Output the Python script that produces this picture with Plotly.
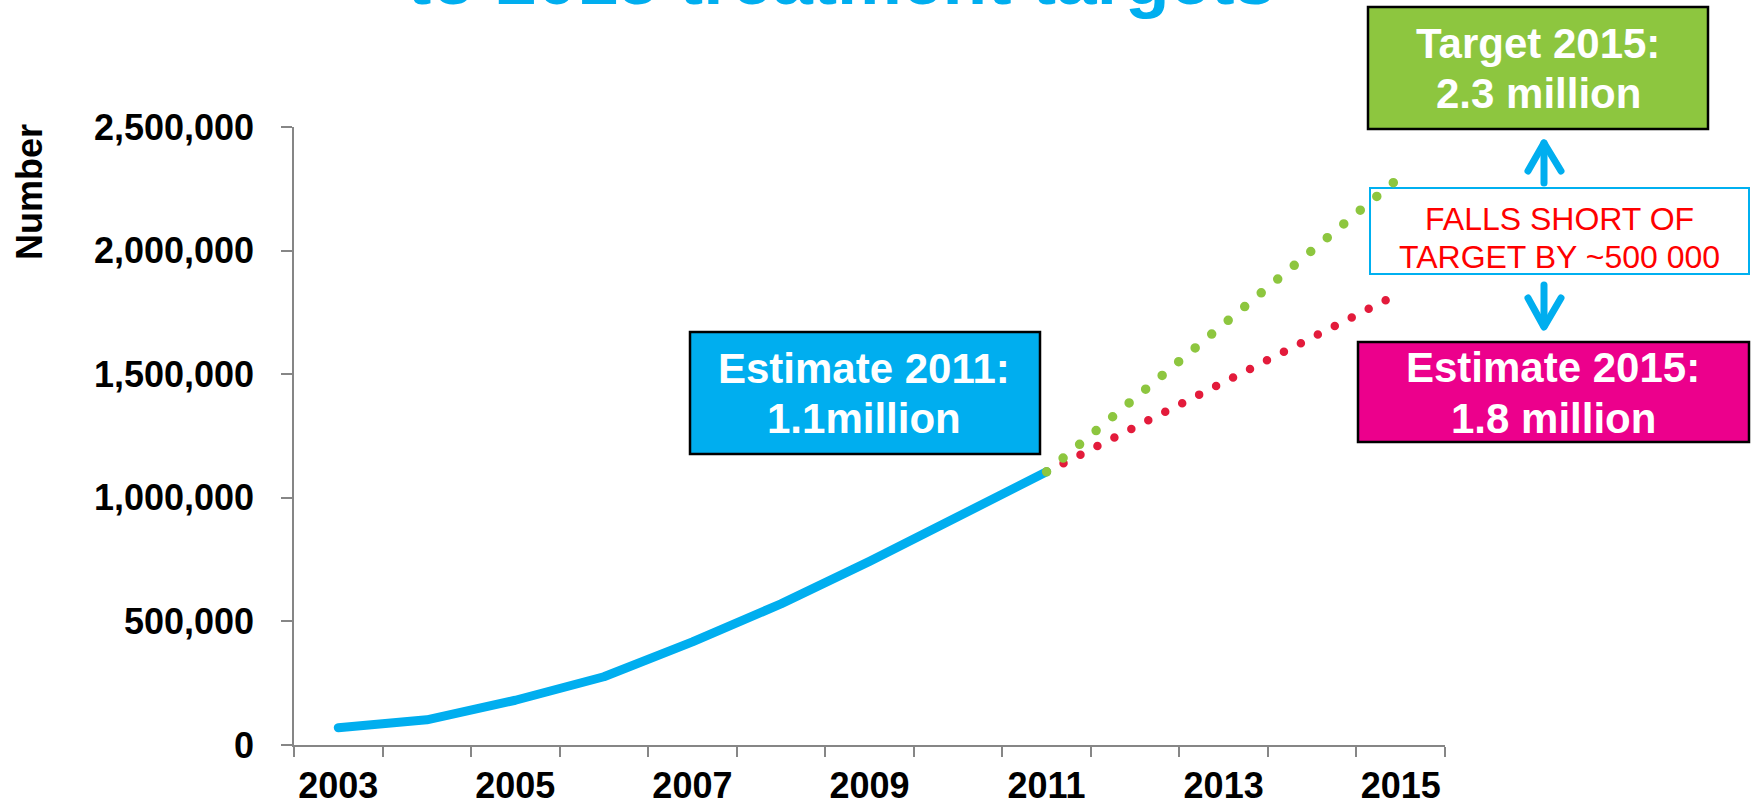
import plotly.graph_objects as go

# ---------------- data ----------------
years = [2003, 2004, 2005, 2006, 2007, 2008, 2009, 2010, 2011]
art_numbers = [70000, 102000, 181000, 276000, 417000, 571000, 743000, 928000, 1105000]

proj_years = [2011, 2015]
target_path = [1105000, 2300000]
estimate_path = [1105000, 1830000]

tick_years = [2003, 2005, 2007, 2009, 2011, 2013, 2015]
y_ticks = [0, 500000, 1000000, 1500000, 2000000, 2500000]

# ---------------- styling ----------------
BLUE = "#00AEEF"
GREEN = "#8DC63F"
MAGENTA = "#EC008C"
RED_DOT = "#E31B3B"
AXIS = "#868686"
FONT = "Liberation Sans, Arial, sans-serif"

W, H = 1758, 808
L, R, T, B = 294, 1445, 127, 745  # plot area in pixels


def PX(px):
    return (px - L) / (R - L)


def PY(py):
    return (B - py) / (B - T)


fig = go.Figure()
fig.add_trace(go.Scatter(x=years, y=art_numbers, mode="lines",
                         line=dict(color=BLUE, width=9), hoverinfo="skip"))
fig.add_trace(go.Scatter(x=proj_years, y=estimate_path, mode="lines",
                         line=dict(color=RED_DOT, width=8.5, dash="0px,19px"), hoverinfo="skip"))
fig.add_trace(go.Scatter(x=proj_years, y=target_path, mode="lines",
                         line=dict(color=GREEN, width=9.5, dash="0px,21.5px"), hoverinfo="skip"))

shapes = []
annotations = []


def box(x0, y0, x1, y1, fill, lc, lw):
    shapes.append(dict(type="rect", xref="paper", yref="paper", layer="below",
                       x0=PX(x0), x1=PX(x1), y0=PY(y1), y1=PY(y0),
                       fillcolor=fill, line=dict(color=lc, width=lw)))


def text(t, cx, cy, size, color, bold=True, angle=0):
    annotations.append(dict(text=t, xref="paper", yref="paper", x=PX(cx), y=PY(cy),
                            xanchor="center", yanchor="middle", showarrow=False,
                            textangle=angle,
                            font=dict(family=FONT, size=size, color=color,
                                      weight="bold" if bold else "normal")))


def path(points):
    d = ""
    for i, (x, y) in enumerate(points):
        d += ("M" if i == 0 else " L") + f"{PX(x):.5f},{PY(y):.5f}"
    shapes.append(dict(type="path", xref="paper", yref="paper", path=d,
                       line=dict(color=BLUE, width=7)))


# boxes
box(690, 332, 1040, 454, BLUE, "black", 2.5)
box(1368, 7, 1708, 129, GREEN, "black", 2.5)
box(1358, 342, 1749, 442, MAGENTA, "black", 2.5)
box(1370, 188, 1749, 274, "white", "#00B0F0", 2)

# box texts
text("Estimate 2011:", 864, 368, 42, "white")
text("1.1million", 864, 418, 42, "white")
text("Target 2015:", 1538, 43, 42, "white")
text("2.3 million", 1538, 93, 42, "white")
text("Estimate 2015:", 1553, 367, 42, "white")
text("1.8 million", 1553, 418, 42, "white")
text("FALLS SHORT OF", 1559, 219, 32, "#FF0000", bold=False)
text("TARGET BY ~500 000", 1559, 257, 32, "#FF0000", bold=False)

# arrows
path([(1544, 183), (1544, 143)])
path([(1528, 171), (1544, 143), (1561, 171)])
path([(1544, 285), (1544, 326)])
path([(1528, 298), (1544, 327), (1561, 298)])

# cut-off title and axis title
text("to 2015 treatment targets", 841, -22, 73, BLUE)
text("Number", 29, 192, 36, "black", angle=-90)

fig.update_layout(
    width=W, height=H, autosize=False,
    margin=dict(l=L, r=W - R, t=T, b=H - B, pad=0, autoexpand=False),
    paper_bgcolor="white", plot_bgcolor="white",
    showlegend=False,
    shapes=shapes, annotations=annotations,
    font=dict(family=FONT, color="black"),
)
fig.update_xaxes(
    automargin=False,
    range=[2002.5, 2015.5], tickmode="array", tickvals=tick_years,
    ticktext=[str(y) for y in tick_years], ticks="",
    tickfont=dict(family=FONT, size=36, color="black", weight="bold"),
    showline=True, linecolor=AXIS, linewidth=1.5, showgrid=False, zeroline=False,
    ticklabelstandoff=8,
    minor=dict(tick0=2002.5, dtick=1, ticks="outside", ticklen=10,
               tickcolor=AXIS, tickwidth=1.5, showgrid=False),
)
fig.update_yaxes(
    automargin=False,
    range=[0, 2500000], tickmode="array", tickvals=y_ticks,
    tickformat=",", ticks="outside", ticklen=11, tickcolor=AXIS, tickwidth=1.5,
    tickfont=dict(family=FONT, size=36, color="black", weight="bold"),
    showline=True, linecolor=AXIS, linewidth=1.5, showgrid=False, zeroline=False,
    ticklabelstandoff=20,
)

post = """
document.documentElement.style.margin='0';
document.documentElement.style.padding='0';
document.documentElement.style.overflow='hidden';
document.body.style.margin='0';
document.body.style.padding='0';
document.body.style.overflow='hidden';
document.querySelectorAll('.scatterlayer path.js-line').forEach(function(p){
  p.style.strokeLinecap='round'; p.style.strokeLinejoin='round';
});
document.querySelectorAll('.shapelayer path').forEach(function(p){
  if (p.getAttribute('d') && p.getAttribute('d').indexOf('Z') < 0) {
    p.style.strokeLinecap='round'; p.style.strokeLinejoin='round';
  }
});
"""
fig.write_html("out.html", post_script=post, config={"displayModeBar": False})
